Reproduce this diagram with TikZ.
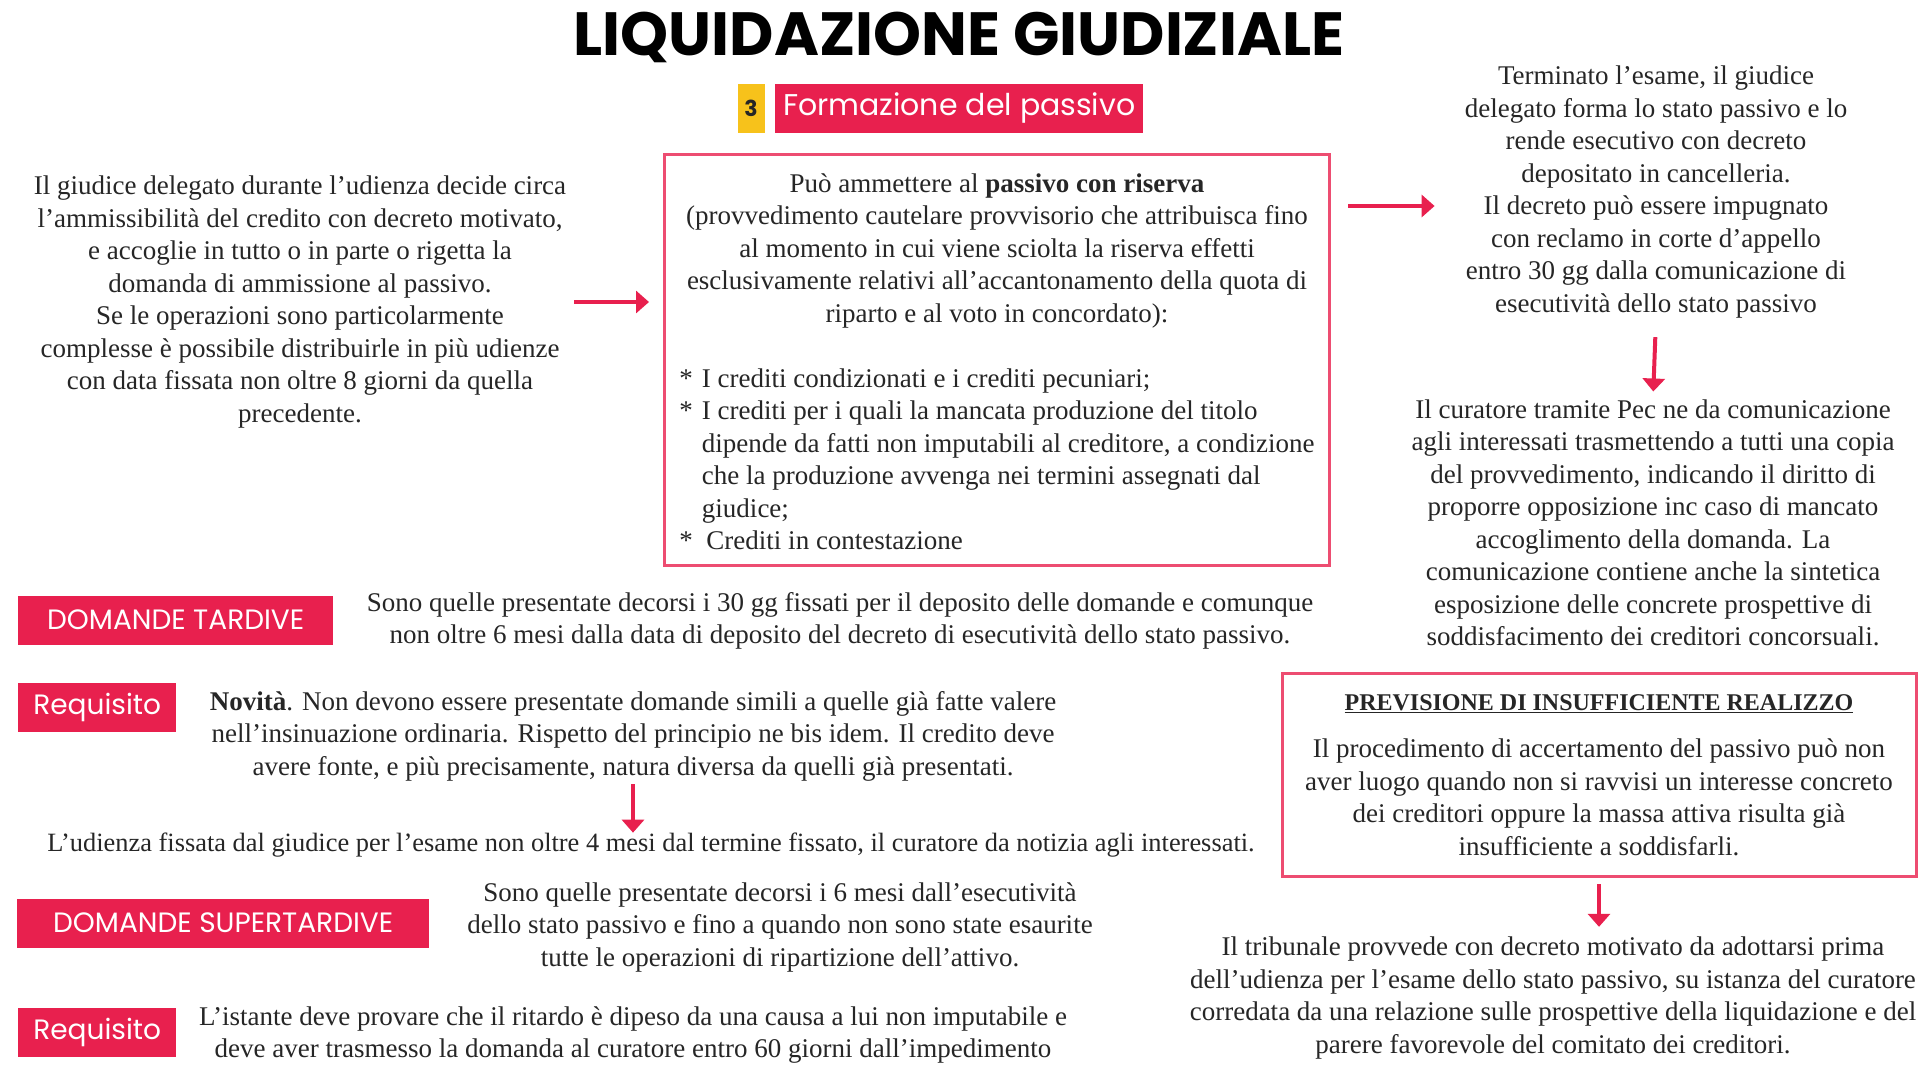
\documentclass[tikz,border=0pt]{standalone}
\usepackage{fontspec}
\usetikzlibrary{arrows.meta}
\setmainfont{Liberation Serif}
\newfontfamily\popfont{Poppins}
\definecolor{lgred}{HTML}{E8204E}
\definecolor{lgyellow}{HTML}{F7C21B}
\definecolor{lgtext}{HTML}{262626}

\begin{document}
\begin{tikzpicture}[x=1pt, y=-1pt,
    body/.style={align=center, inner sep=0pt, text=lgtext, font=\fontsize{27}{32.5}\selectfont},
    tag/.style={fill=lgred, text=white, inner xsep=4pt, inner ysep=0pt, minimum height=49pt, font=\popfont\fontsize{28}{30}\selectfont},
    frame/.style={draw=lgred!80, line width=3pt, inner xsep=10pt, inner ysep=12pt},
    arr/.style={-{Triangle[length=13pt,width=22pt]}, line width=4pt, lgred}]
    \useasboundingbox (0,0) rectangle (1920,1080);
    \fill[white] (0,0) rectangle (1920,1080);

    % Title and phase badge
    \node[font=\popfont\bfseries\fontsize{61}{70}\selectfont, text=black] (titolo) at (959,37) {LIQUIDAZIONE GIUDIZIALE};
    \node[fill=lgyellow, minimum width=27pt, minimum height=49pt, inner sep=0pt, text=lgtext, font=\popfont\bfseries\fontsize{22}{24}\selectfont] (numero) at (751,108) {3};
    \node[tag, anchor=west, minimum width=368pt, font=\popfont\fontsize{30}{32}\selectfont] (fase) at (775,108) {Formazione del passivo};

    % Udienza e riserva
    \node[body] (giudice) at (300,302) {Il giudice delegato durante l'udienza decide circa\\
        l'ammissibilità del credito con decreto motivato,\\
        e accoglie in tutto o in parte o rigetta la\\
        domanda di ammissione al passivo.\\
        Se le operazioni sono particolarmente\\
        complesse è possibile distribuirle in più udienze\\
        con data fissata non oltre 8 giorni da quella\\
        precedente.};
    \node[frame, body, minimum width=665pt, minimum height=411pt] (riserva) at (997,360) {\rule{0pt}{32pt}Può ammettere al \textbf{passivo con riserva}\\
        (provvedimento cautelare provvisorio che attribuisca fino\\
        al momento in cui viene sciolta la riserva effetti\\
        esclusivamente relativi all'accantonamento della quota di\\
        riparto e al voto in concordato):\\[32.5pt]
        \begin{tabular}[t]{@{}l@{\hspace{9pt}}l@{}}
        {*} & I crediti condizionati e i crediti pecuniari;\\
        {*} & I crediti per i quali la mancata produzione del titolo\\
          & dipende da fatti non imputabili al creditore, a condizione\\
          & che la produzione avvenga nei termini assegnati dal\\
          & giudice;\\
        {*} & \,Crediti in contestazione
        \end{tabular}};

    % Stato passivo
    \node[body] (esame) at (1656,192) {Terminato l'esame, il giudice\\
        delegato forma lo stato passivo e lo\\
        rende esecutivo con decreto\\
        depositato in cancelleria.\\
        Il decreto può essere impugnato\\
        con reclamo in corte d'appello\\
        entro 30 gg dalla comunicazione di\\
        esecutività dello stato passivo};
    \node[body] (curatore) at (1653,523) {Il curatore tramite Pec ne da comunicazione\\
        agli interessati trasmettendo a tutti una copia\\
        del provvedimento, indicando il diritto di\\
        proporre opposizione inc caso di mancato\\
        accoglimento della domanda. La\\
        comunicazione contiene anche la sintetica\\
        esposizione delle concrete prospettive di\\
        soddisfacimento dei creditori concorsuali.};
    \node[frame, body, minimum width=634pt, minimum height=203pt] (previsione) at (1599,775) {{\fontsize{24}{28}\selectfont\textbf{\underline{PREVISIONE DI INSUFFICIENTE REALIZZO}}}\\[15pt]
        Il procedimento di accertamento del passivo può non\\
        aver luogo quando non si ravvisi un interesse concreto\\
        dei creditori oppure la massa attiva risulta già\\
        insufficiente a soddisfarli.};
    \node[body] (tribunale) at (1553,998) {Il tribunale provvede con decreto motivato da adottarsi prima\\
        dell'udienza per l'esame dello stato passivo, su istanza del curatore\\
        corredata da una relazione sulle prospettive della liquidazione e del\\
        parere favorevole del comitato dei creditori.};

    % Domande tardive
    \node[tag, anchor=west, minimum width=315pt] (tardive) at (18,620) {DOMANDE TARDIVE};
    \node[body] (tardivetxt) at (840,621) {Sono quelle presentate decorsi i 30 gg fissati per il deposito delle domande e comunque\\
        non oltre 6 mesi dalla data di deposito del decreto di esecutività dello stato passivo.};
    \node[tag, anchor=west, minimum width=158pt] (requisito1) at (18,707) {Requisito};
    \node[body] (novita) at (633,736) {\textbf{Novità}. Non devono essere presentate domande simili a quelle già fatte valere\\
        nell'insinuazione ordinaria. Rispetto del principio ne bis idem. Il credito deve\\
        avere fonte, e più precisamente, natura diversa da quelli già presentati.};
    \node[body, font=\fontsize{26.4}{32}\selectfont] (udienza) at (651,845) {L'udienza fissata dal giudice per l'esame non oltre 4 mesi dal termine fissato, il curatore da notizia agli interessati.};

    % Domande supertardive
    \node[tag, anchor=west, minimum width=412pt] (supertardive) at (17,923) {DOMANDE SUPERTARDIVE};
    \node[body] (supertxt) at (780,927) {Sono quelle presentate decorsi i 6 mesi dall'esecutività\\
        dello stato passivo e fino a quando non sono state esaurite\\
        tutte le operazioni di ripartizione dell'attivo.};
    \node[tag, anchor=west, minimum width=158pt] (requisito2) at (18,1032) {Requisito};
    \node[body] (istante) at (633,1035) {L'istante deve provare che il ritardo è dipeso da una causa a lui non imputabile e\\
        deve aver trasmesso la domanda al curatore entro 60 giorni dall'impedimento};

    % Arrows
    \draw[arr, shorten <=8pt, shorten >=14pt] (giudice.east) -- (giudice.east -| riserva.west);
    \draw[arr, shorten <=17pt, shorten >=30pt] ([yshift=-14pt]esame.west -| riserva.east) -- ([yshift=-14pt]esame.west);
    \draw[arr, shorten <=19pt, shorten >=8pt] (esame.south) -- (curatore.north);
    \draw[arr, shorten <=6pt, shorten >=10pt] (previsione.south) -- (previsione.south |- tribunale.north);
    \draw[arr, shorten <=3pt] (novita.south) -- (novita.south |- udienza.north);
\end{tikzpicture}
\end{document}
